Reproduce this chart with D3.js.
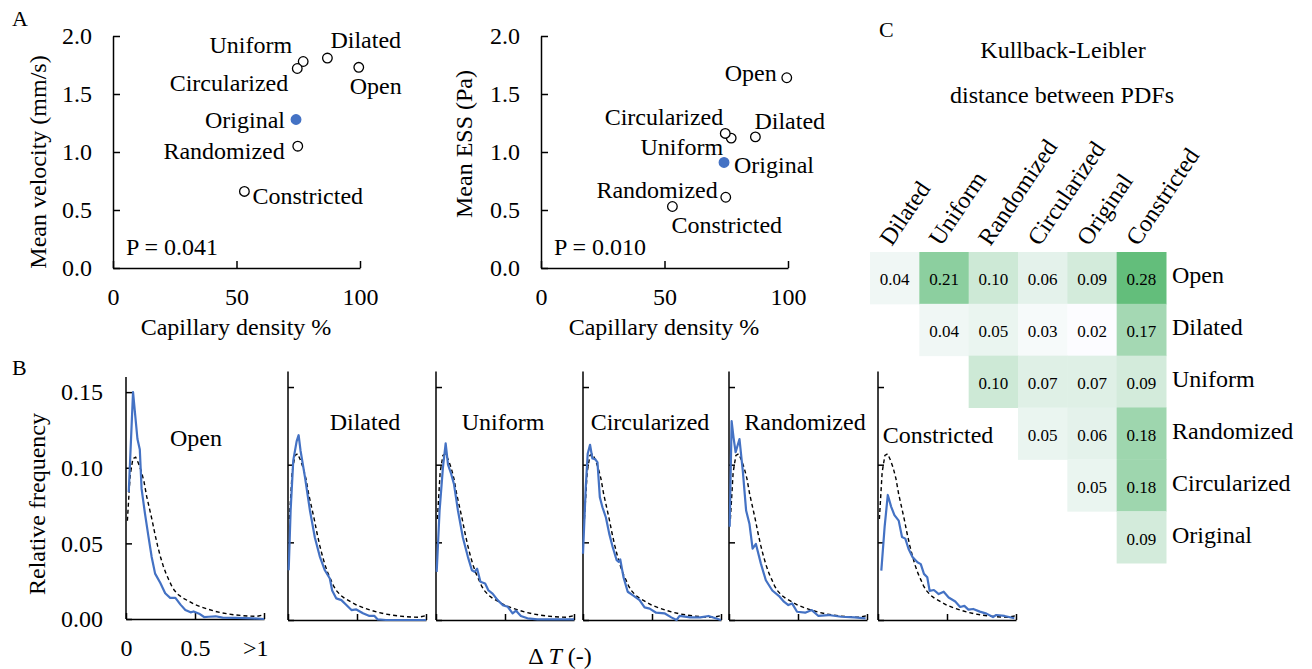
<!DOCTYPE html>
<html lang="en">
<head>
<meta charset="UTF-8">
<title>Capillary models</title>
<script src="https://d3js.org/d3.v7.min.js"></script>
<style>
    body { margin: 0; background: #fff; }
    svg { font-family: "Liberation Serif", "Times New Roman", serif; }
</style>
</head>
<body>
<svg id="fig" width="1312" height="669"></svg>
<script>
// ---- data: panel A ----
const models = ["Open", "Dilated", "Uniform", "Circularized", "Original", "Randomized", "Constricted"];
const capillaryDensity = [99.5, 86.8, 77.0, 74.6, 74.1, 74.8, 53.2];
const meanVelocity = [1.73, 1.81, 1.78, 1.72, 1.28, 1.05, 0.66];
const meanESS = [1.64, 1.13, 1.12, 1.16, 0.91, 0.61, 0.53];
const pLabels = ["P = 0.041", "P = 0.010"];
const velTicks = [0, 0.5, 1.0, 1.5, 2.0];
const densTicks = [0, 50, 100];

// ---- data: panel B (relative frequency of delta T) ----
const pdfTicksY = [0, 0.05, 0.10, 0.15];
const pdfTicksX = [0, 0.5, 1];
const pdfOriginal = [[0.01,0.065],[0.03,0.095],[0.05,0.106],[0.07,0.107],[0.09,0.103],[0.11,0.098],[0.13,0.091],
  [0.15,0.081],[0.17,0.073],[0.19,0.065],[0.21,0.056],[0.23,0.048],[0.25,0.041],[0.27,0.035],[0.29,0.030],
  [0.31,0.026],[0.33,0.022],[0.35,0.019],[0.38,0.016],[0.41,0.014],[0.45,0.012],[0.50,0.0095],[0.55,0.0078],
  [0.60,0.0063],[0.65,0.0050],[0.70,0.0040],[0.75,0.0032],[0.80,0.0026],[0.85,0.0022],[0.90,0.0019],
  [0.95,0.0018],[1.0,0.0028]];
const pdfOpen = [[0.02,0.084],[0.051,0.150],[0.083,0.119],[0.10,0.112],[0.113,0.086],[0.137,0.070],[0.162,0.055],
  [0.186,0.041],[0.211,0.030],[0.248,0.024],[0.284,0.017],[0.32,0.014],[0.358,0.014],[0.395,0.0095],[0.43,0.006],
  [0.468,0.0044],[0.49,0.005],[0.53,0.0035],[0.566,0.0013],[0.60,0.0015],[0.65,0.0018],[0.70,0.0009],
  [0.80,0.0007],[0.92,0.0004],[1.0,0]];
const pdfDilated = [[0.005,0.032],[0.019,0.0705],[0.038,0.1026],[0.0625,0.115],[0.077,0.119],[0.091,0.109],
  [0.123,0.092],[0.159,0.0705],[0.195,0.053],[0.23,0.041],[0.267,0.032],[0.303,0.0267],[0.32,0.019],[0.35,0.0139],
  [0.387,0.0128],[0.423,0.0096],[0.46,0.0064],[0.495,0.0068],[0.543,0.0043],[0.59,0.0026],[0.627,0.0026],
  [0.65,0.0004],[0.71,0],[1.0,0]];
const pdfUniform = [[0.005,0.031],[0.026,0.0705],[0.05,0.098],[0.07,0.1137],[0.087,0.100],[0.11,0.094],[0.13,0.0876],
  [0.159,0.0705],[0.195,0.053],[0.23,0.041],[0.26,0.032],[0.279,0.031],[0.298,0.033],[0.322,0.0246],[0.356,0.0235],
  [0.38,0.019],[0.41,0.017],[0.447,0.0128],[0.483,0.0096],[0.52,0.0085],[0.555,0.0043],[0.58,0.006],[0.615,0.0026],
  [0.663,0.0011],[0.735,0.0004],[1.0,0.0004]];
const pdfCircularized = [[0.0,0.0427],[0.02,0.0855],[0.034,0.107],[0.051,0.1128],[0.068,0.104],[0.088,0.1036],
  [0.105,0.1015],[0.122,0.079],[0.141,0.0726],[0.166,0.066],[0.19,0.0556],[0.215,0.047],[0.244,0.0385],
  [0.259,0.0374],[0.27,0.039],[0.293,0.0278],[0.324,0.0182],[0.36,0.016],[0.41,0.0128],[0.446,0.0081],
  [0.483,0.0073],[0.53,0.0047],[0.59,0.0043],[0.64,0.0017],[0.678,0],[0.70,0.0026],[0.776,0.0017],[0.85,0.0017],
  [0.91,0.0026],[0.96,0.0011],[1.0,0]];
const pdfRandomized = [[0.005,0.06],[0.019,0.128],[0.033,0.1175],[0.048,0.108],[0.076,0.1165],[0.10,0.096],
  [0.124,0.0705],[0.148,0.062],[0.171,0.046],[0.195,0.049],[0.231,0.0363],[0.267,0.0256],[0.314,0.019],
  [0.367,0.015],[0.398,0.0118],[0.43,0.0096],[0.457,0.0107],[0.493,0.0053],[0.552,0.0047],[0.60,0.0064],
  [0.648,0.0026],[0.72,0.0032],[0.814,0.0021],[0.91,0.0017],[0.99,0.0011]];
const pdfConstricted = [[0.024,0.0318],[0.048,0.06],[0.071,0.0805],[0.095,0.073],[0.119,0.0675],[0.15,0.064],
  [0.174,0.0535],[0.198,0.0524],[0.221,0.0459],[0.25,0.0405],[0.286,0.0372],[0.31,0.036],[0.333,0.0297],
  [0.357,0.0275],[0.374,0.0188],[0.405,0.0193],[0.44,0.0167],[0.476,0.0182],[0.512,0.0145],[0.56,0.0119],
  [0.595,0.0084],[0.626,0.0091],[0.655,0.0067],[0.69,0.0071],[0.738,0.0054],[0.786,0.0041],[0.833,0.0019],
  [0.857,0.0032],[0.917,0.0026],[0.988,0.0011]];
const pdfNames = ["Open", "Dilated", "Uniform", "Circularized", "Randomized", "Constricted"];
const pdfSeries = [pdfOpen, pdfDilated, pdfUniform, pdfCircularized, pdfRandomized, pdfConstricted];

// ---- data: panel C (KL distance) ----
const klCols = ["Dilated", "Uniform", "Randomized", "Circularized", "Original", "Constricted"];
const klRows = ["Open", "Dilated", "Uniform", "Randomized", "Circularized", "Original"];
const klValues = [
    [0.04, 0.21, 0.10, 0.06, 0.09, 0.28],
    [null, 0.04, 0.05, 0.03, 0.02, 0.17],
    [null, null, 0.10, 0.07, 0.07, 0.09],
    [null, null, null, 0.05, 0.06, 0.18],
    [null, null, null, null, 0.05, 0.18],
    [null, null, null, null, null, 0.09]
];

const blue = "#4472c4";
const svg = d3.select("#fig");

function styleAxis(g) {
    g.attr("font-family", null).attr("font-size", 24);
    g.selectAll(".domain").attr("stroke", "#000").attr("stroke-width", 1.5);
    g.selectAll(".tick line").attr("stroke", "#000").attr("stroke-width", 1.5);
    g.selectAll(".tick text").attr("fill", "#000");
}

function text(x, y, str, size, anchor) {
    return svg.append("text").attr("x", x).attr("y", y).attr("font-size", size)
        .attr("text-anchor", anchor || "start").text(str);
}

// ---- Panel A: two scatter plots ----
// label offsets from each point: [dx, dy, anchor]
const labelPosVel = {
    Open: [-9, 27, "start"], Dilated: [3, -10, "start"], Uniform: [-11, -8.5, "end"],
    Circularized: [-9, 22.5, "end"], Original: [-11, 8.5, "end"], Randomized: [-13, 13, "end"],
    Constricted: [8, 12.5, "start"]
};
const labelPosESS = {
    Open: [-10, 3, "end"], Dilated: [-1, -8, "start"], Uniform: [-8, 17, "end"],
    Circularized: [-2, -8, "end"], Original: [10, 10.5, "start"], Randomized: [-8, 1, "end"],
    Constricted: [-1, 26.5, "start"]
};

function scatter(left, yVals, yTitle, yTitleCx, yTitleCy, pText, labelPos) {
    const x = d3.scaleLinear().domain([0, 100]).range([left, left + 247]);
    const y = d3.scaleLinear().domain([0, 2]).range([268, 36]);

    svg.append("g").attr("transform", `translate(0,268)`)
        .call(d3.axisBottom(x).tickValues(densTicks).tickSizeInner(-7).tickSizeOuter(0).tickPadding(20))
        .call(styleAxis);
    svg.append("g").attr("transform", `translate(${left},0)`)
        .call(d3.axisLeft(y).tickValues(velTicks).tickFormat(d3.format(".1f"))
            .tickSizeInner(-7).tickSizeOuter(0).tickPadding(21))
        .call(styleAxis);

    text(left + 123, 335, "Capillary density %", 24, "middle");
    svg.append("text").attr("transform", `translate(${yTitleCx},${yTitleCy}) rotate(-90)`)
        .attr("font-size", 24).attr("text-anchor", "middle").attr("dy", "0.33em").text(yTitle);
    text(left + 13, 255, pText, 24);

    models.forEach((m, i) => {
        const p = labelPos[m];
        text(x(capillaryDensity[i]) + p[0], y(yVals[i]) + p[1], m, 24, p[2]);
    });
    svg.append("g").selectAll("circle").data(models).join("circle")
        .attr("cx", (d, i) => x(capillaryDensity[i]))
        .attr("cy", (d, i) => y(yVals[i]))
        .attr("r", 4.8)
        .attr("fill", d => d === "Original" ? blue : "#fff")
        .attr("stroke", d => d === "Original" ? blue : "#000")
        .attr("stroke-width", 1.3);
}

scatter(113, meanVelocity, "Mean velocity (mm/s)", 38, 162, pLabels[0], labelPosVel);
scatter(541, meanESS, "Mean ESS (Pa)", 464, 144, pLabels[1], labelPosESS);

// ---- Panel B: PDFs ----
const panelLayout = [
    { left: 126, bottom: 619, top: 377, tx: 70, ty: 446 },
    { left: 288, bottom: 620, top: 371.5, tx: 77, ty: 430 },
    { left: 436, bottom: 620, top: 371.5, tx: 67, ty: 430 },
    { left: 583, bottom: 620, top: 371.5, tx: 67, ty: 430 },
    { left: 729, bottom: 620, top: 371.5, tx: 76, ty: 430 },
    { left: 878, bottom: 620, top: 371.5, tx: 60, ty: 443 }
];
const panelW = 138;

pdfNames.forEach((name, k) => {
    const L = panelLayout[k];
    const x = d3.scaleLinear().domain([0, 1]).range([L.left, L.left + panelW]);
    const y = d3.scaleLinear().domain([0, 0.16]).range([L.bottom, L.top]);

    const xa = svg.append("g").attr("transform", `translate(0,${L.bottom})`)
        .call(d3.axisBottom(x).tickValues(pdfTicksX).tickSizeInner(-6).tickSizeOuter(0).tickPadding(20)
            .tickFormat(d => d === 1 ? ">1" : d3.format("")(d)))
        .call(styleAxis);
    const ya = svg.append("g").attr("transform", `translate(${L.left},0)`)
        .call(d3.axisLeft(y).tickValues(pdfTicksY).tickFormat(d3.format(".2f"))
            .tickSizeInner(-6).tickSizeOuter(0).tickPadding(23))
        .call(styleAxis);
    // axis line extends to the top of the plot box
    ya.select(".domain").attr("d", `M0,${L.bottom}V${L.top}`);
    if (k > 0) {
        xa.selectAll(".tick text").remove();
        ya.selectAll(".tick text").remove();
    } else {
        xa.selectAll(".tick text").filter(d => d === 1).attr("text-anchor", "end").attr("dx", 4);
    }

    const line = d3.line().x(d => x(d[0])).y(d => y(d[1]));
    svg.append("path").datum(pdfOriginal).attr("d", line)
        .attr("fill", "none").attr("stroke", "#000").attr("stroke-width", 1.4).attr("stroke-dasharray", "4,3");
    svg.append("path").datum(pdfSeries[k]).attr("d", line)
        .attr("fill", "none").attr("stroke", blue).attr("stroke-width", 2.2).attr("stroke-linejoin", "round");

    text(L.left + L.tx, L.ty, name, 24, "middle");
});

svg.append("text").attr("transform", "translate(37,504) rotate(-90)")
    .attr("font-size", 24).attr("text-anchor", "middle").attr("dy", "0.33em").text("Relative frequency");
const dt = text(560, 664, "", 24, "middle");
dt.append("tspan").text("\u0394 ");
dt.append("tspan").attr("font-style", "italic").text("T");
dt.append("tspan").text(" (-)");

// ---- Panel C: KL heatmap ----
const col = d3.scaleBand().domain(klCols).range([870, 1166]);
const row = d3.scaleBand().domain(klRows).range([252, 563]);
const color = d3.scaleLinear().domain([0.02, 0.28]).range(["#fcfcff", "#63be7b"]);

const cells = [];
klValues.forEach((vals, i) => vals.forEach((v, j) => {
    if (v !== null) cells.push({ r: klRows[i], c: klCols[j], v: v });
}));
const cg = svg.append("g").selectAll("g").data(cells).join("g");
cg.append("rect")
    .attr("x", d => col(d.c)).attr("y", d => row(d.r))
    .attr("width", col.bandwidth() + 0.5).attr("height", row.bandwidth() + 0.5)
    .attr("fill", d => color(d.v));
cg.append("text")
    .attr("x", d => col(d.c) + col.bandwidth() / 2)
    .attr("y", d => row(d.r) + row.bandwidth() / 2 + 7.5)
    .attr("text-anchor", "middle").attr("font-size", 17)
    .text(d => d3.format(".2f")(d.v));

klCols.forEach(c => {
    svg.append("text")
        .attr("transform", `translate(${col(c) + col.bandwidth() / 2 - 3},247) rotate(-56)`)
        .attr("font-size", 24).text(c);
});
klRows.forEach(r => {
    text(1172, row(r) + row.bandwidth() / 2 + 5.5, r, 24);
});
text(1063, 58, "Kullback-Leibler", 24, "middle");
text(1062, 103, "distance between PDFs", 24, "middle");

// panel letters
text(12, 26, "A", 22);
text(12, 375, "B", 22);
text(879, 37, "C", 22);
</script>
</body>
</html>
